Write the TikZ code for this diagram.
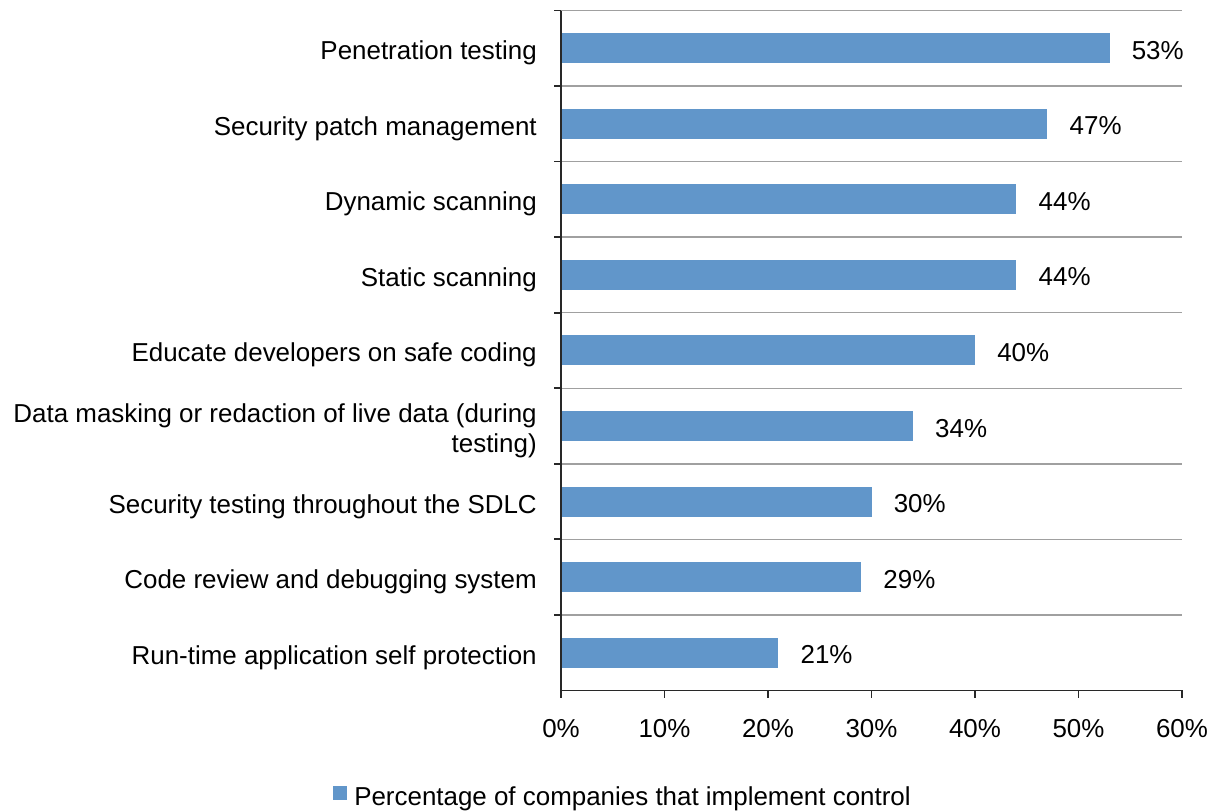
\documentclass[tikz,border=0pt]{standalone}
\usepackage{fontspec}
\setmainfont{Liberation Sans}
\definecolor{barblue}{RGB}{97,150,202}
\definecolor{gridgray}{RGB}{160,160,160}
\definecolor{axisgray}{RGB}{40,40,40}
\begin{document}
\begin{tikzpicture}[x=0.75pt,y=-0.75pt,
  lbl/.style={font=\fontsize{19.45}{21.8}\selectfont, inner sep=0pt},
  catlbl/.style={lbl, anchor=base east, align=right},
  vallbl/.style={lbl, anchor=base west},
  ticklbl/.style={lbl, anchor=base},
  bar/.style={fill=barblue, draw=none},
  grid/.style={draw=gridgray, line width=1.1pt},
  axis/.style={draw=axisgray, line width=1.3pt}]
\useasboundingbox (0,0) rectangle (1208,811);
\def\xo{561}
\def\unit{10.35}
\def\top{10.5}
\def\band{75.55}
% horizontal grid lines and left axis ticks
\foreach \i in {0,...,8} {
  \pgfmathsetmacro\yy{\top+\band*\i}
  \draw[grid] (\xo,\yy) -- (1182,\yy);
  \draw[axis] (554,\yy) -- (\xo,\yy);
}
% bars, values and category labels (\s moves the last baseline of two-line labels)
\foreach \v/\s/\t [count=\i from 0] in {
  53/0/Penetration testing,
  47/0/Security patch management,
  44/0/Dynamic scanning,
  44/0/Static scanning,
  40/0/Educate developers on safe coding,
  34/14.5/{Data masking or redaction of live data (during\\testing)},
  30/0/Security testing throughout the SDLC,
  29/0/Code review and debugging system,
  21/0/Run-time application self protection} {
  \pgfmathsetmacro\yc{\top+\band*(\i+0.5)}
  \pgfmathsetmacro\xe{\xo+\unit*\v}
  \fill[bar] (\xo,\yc-15) rectangle (\xe,\yc+15);
  \node[vallbl] (val\i) at (\xe+22,\yc+11) {\v\%};
  \node[catlbl] (cat\i) at (537,\yc+11.5+\s) {\t};
}
% axes
\pgfmathsetmacro\ybot{\top+\band*9}
\draw[axis] (\xo,\top) -- (\xo,\ybot);
\draw[axis] (\xo,\ybot) -- (1182,\ybot);
\foreach \p in {0,10,...,60} {
  \pgfmathsetmacro\xt{\xo+\unit*\p}
  \draw[axis] (\xt,\ybot) -- (\xt,\ybot+8);
  \node[ticklbl] (tick\p) at (\xt,737) {\p\%};
}
% legend
\fill[bar] (333,786) rectangle (347,800);
\node[lbl, anchor=base west] (legend) at (354,805) {Percentage of companies that implement control};
\end{tikzpicture}
\end{document}
